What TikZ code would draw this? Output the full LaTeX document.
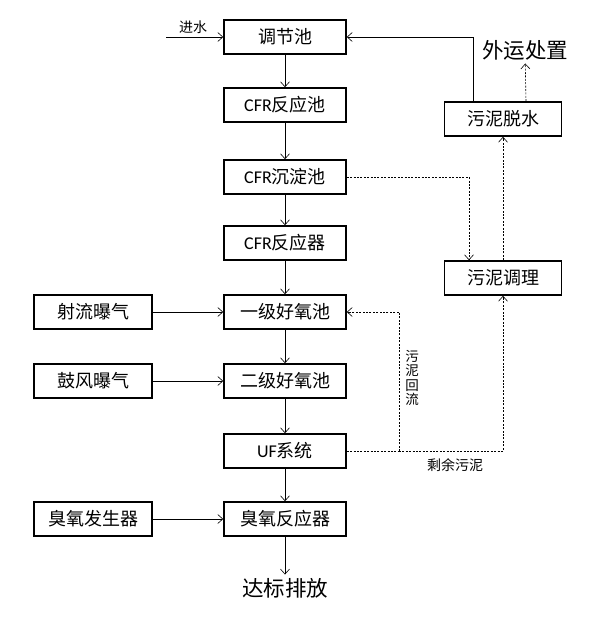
\documentclass[tikz,border=0pt]{standalone}
\usepackage{fontspec}
\setmainfont{Noto Sans CJK SC}
\newfontfamily\lat{Carlito}
\usetikzlibrary{arrows.meta}
\begin{document}
\begin{tikzpicture}[x=1pt,y=-1pt,
  box/.style={draw,line width=1.6pt,minimum height=34pt,inner sep=0pt,font=\fontsize{18}{20}\selectfont},
  mbox/.style={box,minimum width=122pt},
  lbox/.style={box,minimum width=118pt},
  rbox/.style={box,minimum width=117pt},
  flow/.style={line width=0.6pt,-{Straight Barb[length=5pt,width=9pt]}},
  dflow/.style={flow,dash pattern=on 2pt off 1.4pt},
  dline/.style={line width=0.6pt,dash pattern=on 2pt off 1.4pt},
  big/.style={font=\fontsize{21.5}{24}\selectfont},
  small/.style={font=\fontsize{14}{15}\selectfont}]
\useasboundingbox (0,0) rectangle (599,618);
% main column
\node[mbox] (a) at (285,37) {调节池};
\node[mbox] (b) at (285,105) {{\lat CFR}反应池};
\node[mbox] (c) at (285,177) {{\lat CFR}沉淀池};
\node[mbox] (d) at (285,243) {{\lat CFR}反应器};
\node[mbox] (e) at (285,312) {一级好氧池};
\node[mbox] (f) at (285,381) {二级好氧池};
\node[mbox] (g) at (285,451) {{\lat UF}系统};
\node[mbox] (h) at (285,519) {臭氧反应器};
\node[big] (out) at (285,588) {达标排放};
% left column
\node[lbox] (j) at (93,312) {射流曝气};
\node[lbox] (k) at (93,381) {鼓风曝气};
\node[lbox] (l) at (93,519) {臭氧发生器};
% right column
\node[rbox] (s) at (503,119) {污泥脱水};
\node[rbox] (t) at (503,278) {污泥调理};
\node[big] (w) at (525,50) {外运处置};
% inlet
\coordinate (in) at (166,37);
\node[small] (inl) at (193,27) {进水};
\draw[flow] (in) -- (a);
% main flow
\draw[flow] (a) -- (b);
\draw[flow] (b) -- (c);
\draw[flow] (c) -- (d);
\draw[flow] (d) -- (e);
\draw[flow] (e) -- (f);
\draw[flow] (f) -- (g);
\draw[flow] (g) -- (h);
\draw[flow] (h) -- (out);
% side inputs
\draw[flow] (j) -- (e);
\draw[flow] (k) -- (f);
\draw[flow] (l) -- (h);
% sludge
\draw[dflow] (c.east) -| (t.north -| 469,0);
\draw[dflow] (t) -- (s);
\draw[flow] (s.north -| 473,0) |- (a.east);
\draw[dflow] (s.north -| 526,0) -- (w);
\coordinate (r) at (399,451);
\draw[dline] (g.east) -- (r);
\draw[dflow] (r) |- (e.east);
\draw[dflow] (r) -| (t.south);
\node[font=\fontsize{13.5}{14.5}\selectfont,align=center,inner sep=0pt] (rl) at (412,378) {污\\泥\\回\\流};
\node[small] (sl) at (455,465) {剩余污泥};
\end{tikzpicture}
\end{document}
